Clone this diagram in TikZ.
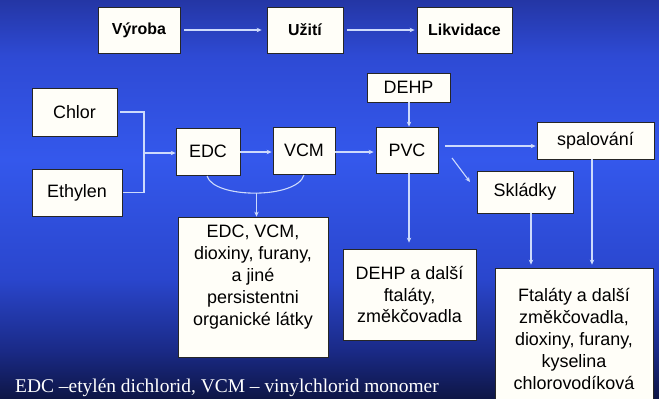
\documentclass[tikz,border=0pt]{standalone}
\usepackage{fontspec}
\setmainfont{Liberation Serif}
\newfontfamily\arialfont{Liberation Sans}
\usetikzlibrary{arrows.meta}
\definecolor{bgtop}{RGB}{36,54,165}
\definecolor{bgupper}{RGB}{46,74,212}
\definecolor{bgmid}{RGB}{52,88,236}
\definecolor{bglow}{RGB}{42,70,205}
\definecolor{bgdeep}{RGB}{26,42,135}
\definecolor{bgbot}{RGB}{14,22,70}
\definecolor{linecol}{RGB}{205,218,252}
\definecolor{boxfill}{RGB}{255,254,248}
\pgfdeclareverticalshading{slidebg}{100bp}{color(0bp)=(bgbot); color(25bp)=(bgbot); color(31bp)=(bgdeep); color(40bp)=(bglow); color(55bp)=(bgmid); color(68bp)=(bgupper); color(75bp)=(bgtop); color(100bp)=(bgtop)}
\tikzset{
  box/.style={draw=black!85, line width=0.8bp, fill=boxfill, inner sep=0pt, align=center,
    font=\arialfont\fontsize{18}{22}\selectfont},
  topbox/.style={box, font=\arialfont\bfseries\fontsize{16}{19}\selectfont},
  boxtext/.style={inner sep=0pt, align=center, font=\arialfont\fontsize{18}{22}\selectfont},
  conn/.style={draw=linecol, line width=1.1bp},
  arr/.style={conn, -{Stealth[length=5bp,width=4.5bp]}},
}
\begin{document}
\begin{tikzpicture}[x=1bp,y=-1bp]
\useasboundingbox (0,0) rectangle (659,398);
\shade[shading=slidebg] (0,0) rectangle (659,398);

% top row
\node[topbox, minimum width=82bp, minimum height=46bp] (vyroba) at (139,30) {Výroba};
\node[topbox, minimum width=76bp, minimum height=46bp] (uziti) at (305,30) {Užití};
\node[topbox, minimum width=95bp, minimum height=46bp] (likv) at (464.5,30) {Likvidace};
\draw[arr, shorten <=4bp, shorten >=5bp] (vyroba.east) -- (uziti.west);
\draw[arr, shorten <=4bp, shorten >=2bp] (uziti.east) -- (likv.west);

% production
\node[box, minimum width=85bp, minimum height=48bp] (chlor) at (74.5,112) {Chlor};
\node[box, minimum width=90bp, minimum height=47bp] (ethylen) at (77,192.5) {Ethylen};
\node[box, minimum width=64bp, minimum height=47bp] (edc) at (208,151.5) {EDC};
\node[box, minimum width=62bp, minimum height=47bp] (vcm) at (304,150.5) {VCM};
\node[box, minimum width=83bp, minimum height=29bp] (dehp) at (408.5,87.5) {DEHP};
\node[box, minimum width=62bp, minimum height=46bp] (pvc) at (407,150) {PVC};
\node[box, minimum width=117bp, minimum height=37bp] (spal) at (595.5,140.5) {spalování};
\node[box, minimum width=96bp, minimum height=42bp] (skladky) at (525,192) {Skládky};

% emission boxes
\node[box, minimum width=150bp, minimum height=140bp] (em1) at (253,287) {};
\node[boxtext] (em1t) at (253,277) {EDC, VCM,\\dioxiny, furany,\\a jiné\\persistentni\\organické látky};
\node[box, minimum width=133bp, minimum height=91bp] (em2) at (409.5,294.5) {DEHP a další\\ftaláty,\\změkčovadla};
\node[box, minimum width=158bp, minimum height=142bp] (em3) at (574,339) {Ftaláty a další\\změkčovadla,\\dioxiny, furany,\\kyselina\\chlorovodíková};

% connectors
\coordinate (jx) at (144,153);
\draw[conn] ([xshift=3bp]chlor.east) -- (chlor.east -| jx) -- (ethylen.east -| jx) -- ([xshift=1bp]ethylen.east);
\draw[arr] (jx) -- (edc.west |- jx);
\draw[arr] (edc.east |- 0,152) -- ([xshift=-1bp]vcm.west |- 0,152);
\draw[arr] (vcm.east |- 0,152) -- ([xshift=-2bp]pvc.west |- 0,152);
\draw[arr] (dehp.south -| 409,0) -- (pvc.north -| 409,0);
\draw[arr] ([xshift=7bp]pvc.east |- 0,146) -- ([xshift=-1bp]spal.west |- 0,146);
\coordinate (dg1) at (452,158);
\coordinate (dg2) at (470,182);
\draw[arr] (dg1) -- (dg2);
\draw[arr, shorten >=6bp] (pvc.south -| 409,0) -- (em2.north -| 409,0);
\draw[arr, shorten >=3bp] (skladky.south -| 531,0) -- (em3.north -| 531,0);
\draw[arr, shorten >=3bp] (spal.south -| 592,0) -- (em3.north -| 592,0);

\coordinate (c1) at (207,176);
\coordinate (c2) at (304,175);
\coordinate (cm) at (256.5,193);
\draw[conn] (c1) .. controls (214,199) and (297,199) .. (c2);
\draw[arr] (cm) -- (em1.north -| cm);

% footnote
\node[anchor=base west, inner sep=0pt, text=white, font=\fontsize{19.5}{22}\selectfont] (note) at (15,392) {EDC –etylén dichlorid, VCM – vinylchlorid monomer};
\end{tikzpicture}
\end{document}
